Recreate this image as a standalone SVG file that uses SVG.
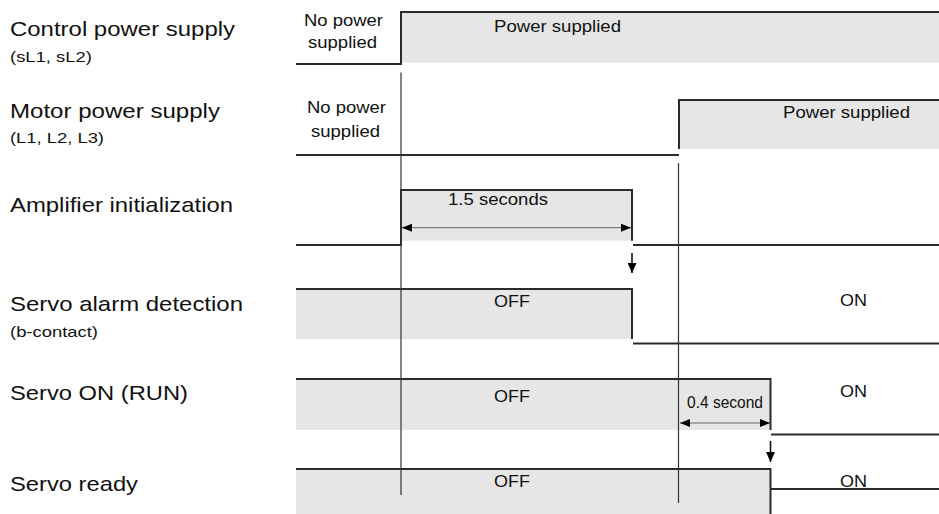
<svg xmlns="http://www.w3.org/2000/svg" width="939" height="514" viewBox="0 0 939 514">
<style>
.bg{fill:#fff}
.fill{fill:#e6e6e6;stroke:none}
.sig{fill:none;stroke:#2b2b2b;stroke-width:2}
.ref{fill:none;stroke:#333;stroke-width:1.2}
.dim{fill:none;stroke:#666;stroke-width:1}
.dn{fill:none;stroke:#111;stroke-width:1.6}
text{font-family:"Liberation Sans",Arial,sans-serif;fill:#111}
.big{font-size:21px}
.sm{font-size:15px}
.lv{font-size:16.5px}
</style>
<defs>
<marker id="ah" viewBox="0 0 10 8" refX="10" refY="4" markerWidth="10" markerHeight="8" markerUnits="userSpaceOnUse" orient="auto-start-reverse">
<path d="M0,0 L10,4 L0,8 Z" fill="#000"/>
</marker>
<marker id="dh" viewBox="0 0 10 9" refX="10" refY="4.5" markerWidth="10" markerHeight="9" markerUnits="userSpaceOnUse" orient="auto">
<path d="M0,0 L10,4.5 L0,9 Z" fill="#000"/>
</marker>
</defs>
<rect class="bg" x="0" y="0" width="939" height="514"/>

<g id="labels">
<text class="big" x="10" y="36" textLength="225" lengthAdjust="spacingAndGlyphs">Control power supply</text>
<text class="sm" x="10" y="62" textLength="82" lengthAdjust="spacingAndGlyphs">(sL1, sL2)</text>
<text class="big" x="10" y="118" textLength="210" lengthAdjust="spacingAndGlyphs">Motor power supply</text>
<text class="sm" x="10" y="143" textLength="94" lengthAdjust="spacingAndGlyphs">(L1, L2, L3)</text>
<text class="big" x="10" y="211.5" textLength="223" lengthAdjust="spacingAndGlyphs">Amplifier initialization</text>
<text class="big" x="10" y="311" textLength="233" lengthAdjust="spacingAndGlyphs">Servo alarm detection</text>
<text class="sm" x="10" y="337" textLength="88" lengthAdjust="spacingAndGlyphs">(b-contact)</text>
<text class="big" x="10" y="400" textLength="178" lengthAdjust="spacingAndGlyphs">Servo ON (RUN)</text>
<text class="big" x="10" y="490.5" textLength="128" lengthAdjust="spacingAndGlyphs">Servo ready</text>
</g>

<g id="row-control">
<rect class="fill" x="401" y="12" width="538" height="50.7"/>
<polyline class="sig" points="296,64 401,64 401,12 939,12"/>
<text class="lv" x="304" y="26" textLength="79" lengthAdjust="spacingAndGlyphs">No power</text>
<text class="lv" x="308" y="48.3" textLength="69" lengthAdjust="spacingAndGlyphs">supplied</text>
<text class="lv" x="494" y="32" textLength="127" lengthAdjust="spacingAndGlyphs">Power supplied</text>
</g>

<g id="row-motor">
<rect class="fill" x="679" y="100" width="260" height="49"/>
<polyline class="sig" points="296,155 679,155"/>
<polyline class="sig" points="679,149 679,100 939,100"/>
<text class="lv" x="307" y="113.3" textLength="79" lengthAdjust="spacingAndGlyphs">No power</text>
<text class="lv" x="311" y="136.7" textLength="69" lengthAdjust="spacingAndGlyphs">supplied</text>
<text class="lv" x="783" y="118" textLength="127" lengthAdjust="spacingAndGlyphs">Power supplied</text>
</g>

<g id="row-amp">
<rect class="fill" x="401" y="190" width="231" height="50.7"/>
<polyline class="sig" points="296,245 401,245 401,190 632,190 632,240.7"/>
<polyline class="sig" points="633,245 939,245"/>
<text class="lv" x="448" y="205" textLength="100" lengthAdjust="spacingAndGlyphs">1.5 seconds</text>
</g>

<g id="row-alarm">
<rect class="fill" x="296" y="289" width="336" height="50"/>
<polyline class="sig" points="296,289 632,289 632,339"/>
<polyline class="sig" points="633,343.5 939,343.5"/>
<text class="lv" x="494" y="306.5" textLength="36" lengthAdjust="spacingAndGlyphs">OFF</text>
<text class="lv" x="840" y="306" textLength="27" lengthAdjust="spacingAndGlyphs">ON</text>
</g>

<g id="row-servo-on">
<rect class="fill" x="296" y="379" width="474" height="51"/>
<polyline class="sig" points="296,379 770.5,379 770.5,430"/>
<polyline class="sig" points="771,434.5 939,434.5"/>
<text class="lv" x="494" y="401.5" textLength="36" lengthAdjust="spacingAndGlyphs">OFF</text>
<text class="lv" x="840" y="397" textLength="27" lengthAdjust="spacingAndGlyphs">ON</text>
<text class="lv" x="687" y="408" textLength="76" lengthAdjust="spacingAndGlyphs">0.4 second</text>
</g>

<g id="row-ready">
<rect class="fill" x="296" y="469" width="474" height="45"/>
<polyline class="sig" points="296,469 770.5,469 770.5,514"/>
<polyline class="sig" points="771,489 939,489"/>
<text class="lv" x="494" y="486.5" textLength="36" lengthAdjust="spacingAndGlyphs">OFF</text>
<text class="lv" x="840" y="486.5" textLength="27" lengthAdjust="spacingAndGlyphs">ON</text>
</g>

<g id="connectors">
<line class="ref" x1="401" y1="72.5" x2="401" y2="495"/>
<line class="ref" x1="678.5" y1="163" x2="678.5" y2="503"/>
<line class="dim" x1="402" y1="227.7" x2="631" y2="227.7" marker-start="url(#ah)" marker-end="url(#ah)"/>
<line class="dim" x1="680" y1="423" x2="770" y2="423" marker-start="url(#ah)" marker-end="url(#ah)"/>
<line class="dn" x1="632" y1="253" x2="632" y2="273" marker-end="url(#dh)"/>
<line class="dn" x1="770.5" y1="441" x2="770.5" y2="462" marker-end="url(#dh)"/>
</g>
</svg>
